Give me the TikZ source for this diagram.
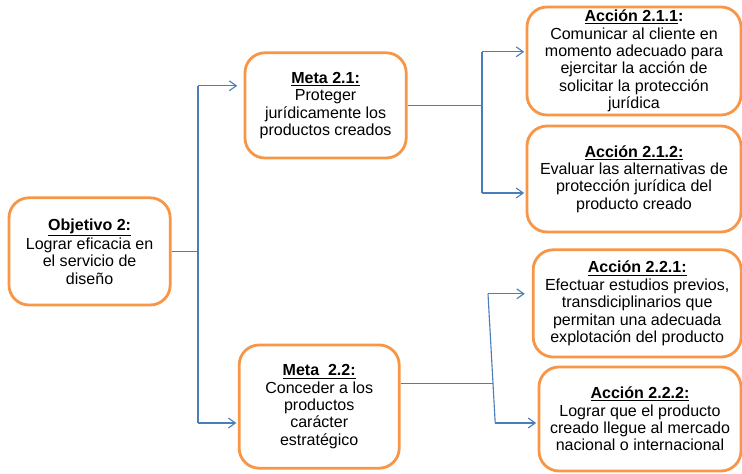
\documentclass[tikz,border=0pt]{standalone}
\usepackage{fontspec}
\setmainfont{Liberation Sans}
\usetikzlibrary{arrows.meta}

\definecolor{boxorange}{HTML}{F79646}
\definecolor{linkblue}{HTML}{4A7EBB}

\tikzset{
	goalbox/.style={draw=boxorange, line width=2pt, rounded corners=0.5cm, align=center, inner sep=2pt, font=\fontsize{11.4}{12.4}\selectfont},
	link/.style={draw=linkblue, line width=0.8pt},
	linkarrow/.style={link, -{Straight Barb[length=5pt,width=7pt]}, shorten >=1pt}
}

\begin{document}
\begin{tikzpicture}
	\useasboundingbox (0,0) rectangle (18.55,11.825);

	\node[goalbox, minimum width=4.03cm, minimum height=2.68cm] (obj) at (2.24,5.54) {\underline{\textbf{Objetivo 2:}}\\Lograr eficacia en\\el servicio de\\diseño};
	\node[goalbox, minimum width=4.03cm, minimum height=2.63cm] (meta21) at (8.14,9.19) {\underline{\textbf{Meta 2.1:}}\\Proteger\\jurídicamente los\\productos creados};
	\node[goalbox, minimum width=4.0cm, minimum height=3.08cm] (meta22) at (7.98,1.66) {\underline{\textbf{Meta\ \ 2.2:}}\\Conceder a los\\productos\\carácter\\estratégico};

	\node[goalbox, minimum width=5.35cm, minimum height=2.7cm] (acc211) at (15.85,10.3) {\underline{\textbf{Acción 2.1.1}}\textbf{:}\\Comunicar al cliente en\\momento adecuado para\\ejercitar la acción de\\solicitar la protección\\jurídica};
	\node[goalbox, minimum width=5.35cm, minimum height=2.65cm] (acc212) at (15.85,7.35) {\underline{\textbf{Acción 2.1.2:}}\\Evaluar las alternativas de\\protección jurídica del\\producto creado};
	\node[goalbox, minimum width=5.2cm, minimum height=2.68cm] (acc221) at (15.93,4.24) {\underline{\textbf{Acción 2.2.1:}}\\Efectuar estudios previos,\\transdiciplinarios que\\permitan una adecuada\\explotación del producto};
	\node[goalbox, minimum width=5.05cm, minimum height=2.6cm] (acc222) at (16.0,1.35) {\underline{\textbf{Acción 2.2.2:}}\\Lograr que el producto\\creado llegue al mercado\\nacional o internacional};

	\coordinate (a1) at (4.95,9.68);
	\coordinate (a2) at (4.95,1.25);
	\draw[link] (obj.east) -- (obj.east -| a1);
	\draw[link] (a1) -- (a2);
	\draw[linkarrow, shorten >=4.5pt] (a1) -- (a1 -| meta21.west);
	\draw[linkarrow] (a2) -- (a2 -| meta22.west);

	\coordinate (b1) at (12.05,10.53);
	\coordinate (b2) at (12.05,7.0);
	\draw[link] (meta21.east) -- (meta21.east -| b1);
	\draw[link] (b1) -- (b2);
	\draw[linkarrow] (b1) -- (b1 -| acc211.west);
	\draw[linkarrow] (b2) -- (b2 -| acc212.west);

	\coordinate (c0) at (12.33,2.23);
	\coordinate (c1) at (12.2,4.48);
	\coordinate (c2) at (12.38,1.25);
	\draw[link] (c0 -| meta22.east) -- (c0);
	\draw[link] (c1) -- (c2);
	\draw[linkarrow, shorten >=5pt] (c1) -- (c1 -| acc221.west);
	\draw[linkarrow] (c2) -- (c2 -| acc222.west);
\end{tikzpicture}
\end{document}
